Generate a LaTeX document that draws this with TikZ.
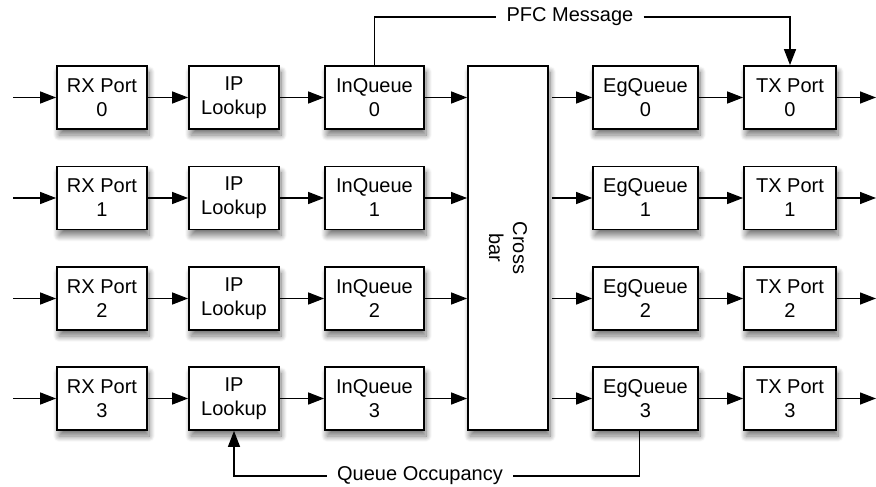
\documentclass[tikz,border=0pt]{standalone}
\usepackage{fontspec}
\setmainfont{Liberation Sans}
\usetikzlibrary{arrows.meta,shadows.blur,calc}
\begin{document}
\begin{tikzpicture}[x=1pt,y=-1pt,
  txt/.style={font=\fontsize{20}{24}\selectfont},
  box/.style={txt, draw, line width=1.8pt, fill=white, inner sep=0pt,
    minimum height=63pt, align=center,
    blur shadow={shadow xshift=2pt, shadow yshift=-6pt, shadow blur radius=6pt,
      shadow blur steps=12, shadow opacity=55}},
  conn/.style={line width=1.4pt},
  arr/.style={conn, -{Triangle[length=16pt,width=12pt]}},
  lbl/.style={txt, inner ysep=0pt, inner xsep=10pt}]
\useasboundingbox (0,0) rectangle (876,487);

\node[box, minimum width=80pt, minimum height=364pt] (xbar) at (508,248) {};
\node[txt, rotate=-90, align=center, inner sep=0pt] (xbarlbl) at (xbar.center) {Cross\\bar};

\foreach \i/\y in {0/97.5,1/198,2/298.5,3/398.5}{
  \coordinate (in\i) at (13,\y);
  \coordinate (out\i) at (876,\y);
  \node[box, minimum width=90pt] (rx\i) at (102,\y) {RX Port\\\i};
  \node[box, minimum width=90pt] (ip\i) at (234,\y) {IP\\Lookup};
  \node[box, minimum width=99pt] (iq\i) at (374.5,\y) {InQueue\\\i};
  \node[box, minimum width=105pt] (eq\i) at (645.5,\y) {EgQueue\\\i};
  \node[box, minimum width=92pt] (tx\i) at (790,\y) {TX Port\\\i};
  \draw[arr] (in\i) -- (rx\i.west);
  \draw[arr] (rx\i) -- (ip\i);
  \draw[arr] (ip\i) -- (iq\i);
  \draw[arr] (iq\i.east) -- (iq\i.east -| xbar.west);
  \draw[arr, shorten <=3pt] (eq\i.west -| xbar.east) -- (eq\i.west);
  \draw[arr] (eq\i) -- (tx\i);
  \draw[arr] (tx\i.east) -- (out\i);
}

\node[lbl] (pfc) at (570,17) {PFC Message};
\draw[conn] (iq0.north) |- (pfc.west);
\draw[arr] (pfc.east) -| (tx0.north);

\node[lbl] (qo) at (420,476) {Queue Occupancy};
\draw[arr] (qo.west) -| (ip3.south);
\draw[conn] (qo.east) -| ([xshift=-6pt]eq3.south);
\end{tikzpicture}
\end{document}
